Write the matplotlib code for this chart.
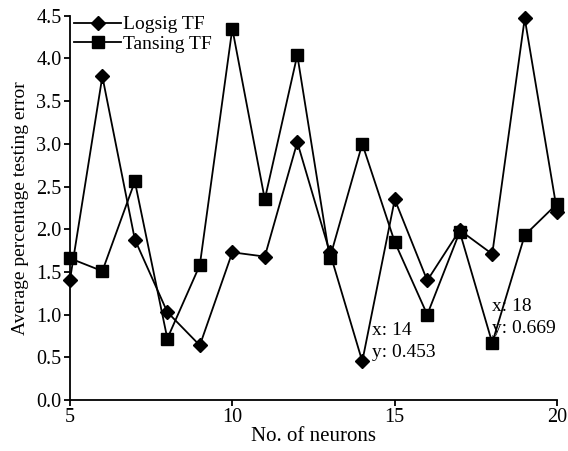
import matplotlib
matplotlib.use("Agg")
import matplotlib.pyplot as plt

neurons = [5, 6, 7, 8, 9, 10, 11, 12, 13, 14, 15, 16, 17, 18, 19, 20]
logsig = [1.40, 3.79, 1.88, 1.03, 0.64, 1.73, 1.68, 3.02, 1.73, 0.453, 2.35, 1.40, 1.99, 1.71, 4.47, 2.20]
tansing = [1.66, 1.51, 2.56, 0.72, 1.58, 4.35, 2.35, 4.04, 1.66, 3.00, 1.85, 1.00, 1.97, 0.669, 1.93, 2.30]
xticks = [5, 10, 15, 20]
yticks = [0.0, 0.5, 1.0, 1.5, 2.0, 2.5, 3.0, 3.5, 4.0, 4.5]

plt.rcParams['font.family'] = ['Liberation Serif', 'DejaVu Serif']
plt.rcParams['font.size'] = 14

fig = plt.figure(figsize=(5.68, 4.51), dpi=100)
ax = fig.add_axes([0.123, 0.113, 0.858, 0.852])

ax.plot(neurons, logsig, color='black', lw=1.3, marker='D', ms=7.5, label='Logsig TF', clip_on=False, zorder=3)
ax.plot(neurons, tansing, color='black', lw=1.3, marker='s', ms=8, label='Tansing TF', clip_on=False, zorder=3)

ax.set_xlim(5, 20)
ax.set_ylim(0, 4.5)
ax.set_xticks(xticks)
ax.set_yticks(yticks)
ax.set_yticklabels([f"{v:.1f}" for v in yticks])
for s in ['top', 'right']:
    ax.spines[s].set_visible(False)
for s in ['left', 'bottom']:
    ax.spines[s].set_linewidth(1.3)
ax.tick_params(direction='out', length=4, width=1.3, labelsize=14.5, pad=2)

ax.set_xlabel('No. of neurons', fontsize=15, labelpad=0)
ax.set_ylabel('Average percentage testing error', fontsize=14, labelpad=5)

ax.legend(loc='upper left', frameon=False, fontsize=14, handlelength=2.4,
          borderaxespad=0.0, borderpad=0.1, handletextpad=0.1, labelspacing=0.1,
          bbox_to_anchor=(0.005, 1.005))

i14 = neurons.index(14)
ax.annotate(f"x: 14\ny: {logsig[i14]}", xy=(14, logsig[i14]), xytext=(7, 0),
            textcoords='offset points', fontsize=14, va='bottom', ha='left', linespacing=1.4)
i18 = neurons.index(18)
ax.annotate(f"x: 18\ny: {tansing[i18]}", xy=(18, tansing[i18]), xytext=(0, 4),
            textcoords='offset points', fontsize=14, va='bottom', ha='left', linespacing=1.4)

fig.savefig('out.png', dpi=100)
